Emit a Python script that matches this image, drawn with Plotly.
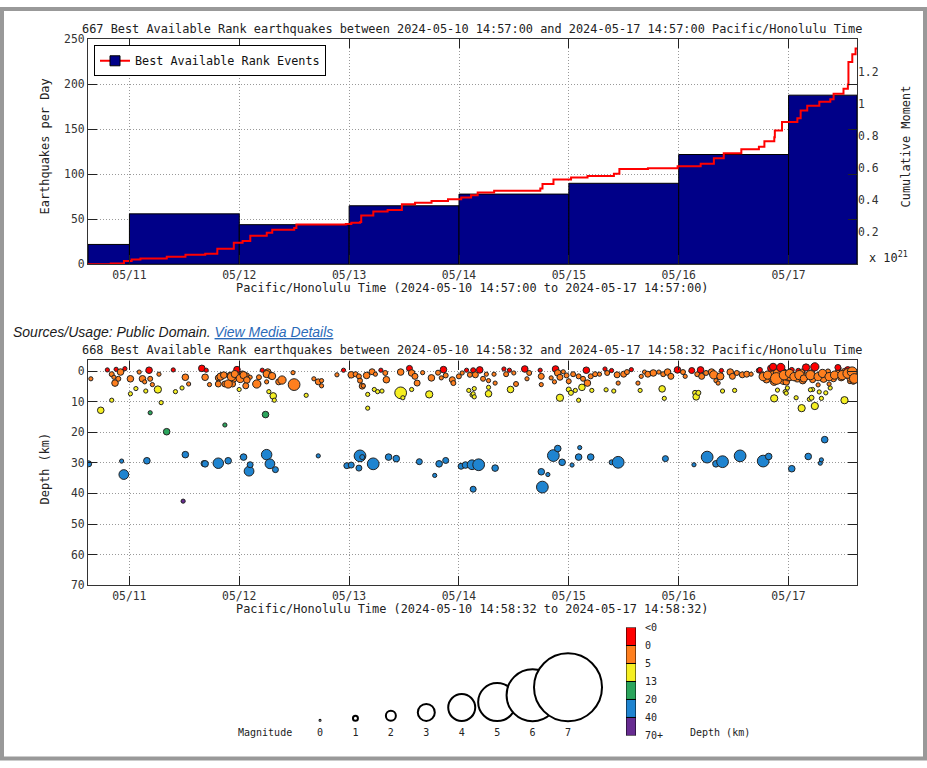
import numpy as np
import pandas as pd
import plotly.graph_objects as go

W, H = 927, 768
MONO = "DejaVu Sans Mono"

# --- top panel: earthquakes per day + cumulative moment (x 10^21) ---
bin_edges = ["2024-05-10 14:57:00", "2024-05-11 00:00:00", "2024-05-12 00:00:00", "2024-05-13 00:00:00",
             "2024-05-14 00:00:00", "2024-05-15 00:00:00", "2024-05-16 00:00:00", "2024-05-17 00:00:00",
             "2024-05-17 14:57:00"]
daily_counts = [22, 56, 44, 65, 78, 90, 122, 188]

# day-of-month (May 2024, fractional) of each step of the cumulative moment curve
moment_day = [10.623, 10.83, 10.95, 11.02, 11.10, 11.34, 11.51, 11.69, 11.80, 11.95,
              12.03, 12.10, 12.25, 12.30, 12.50, 12.52, 12.97, 13.02, 13.10, 13.11,
              13.22, 13.35, 13.48, 13.60, 13.75, 13.90, 14.02, 14.11, 14.17, 14.32,
              14.74, 14.76, 14.86, 15.02, 15.17, 15.41, 15.46, 15.72, 15.99, 16.20,
              16.32, 16.41, 16.57, 16.73, 16.78, 16.87, 16.875, 16.94, 17.08, 17.11,
              17.17, 17.28, 17.38, 17.41, 17.50, 17.54, 17.545, 17.58, 17.61, 17.623]
moment_value = [0.0, 0.005, 0.02, 0.03, 0.035, 0.047, 0.059, 0.065, 0.096, 0.133,
                0.145, 0.177, 0.196, 0.214, 0.226, 0.247, 0.251, 0.259, 0.263, 0.304,
                0.328, 0.338, 0.373, 0.383, 0.393, 0.404, 0.416, 0.43, 0.446, 0.457,
                0.471, 0.50, 0.528, 0.54, 0.55, 0.563, 0.593, 0.598, 0.61, 0.626,
                0.66, 0.691, 0.716, 0.732, 0.766, 0.791, 0.832, 0.885, 0.909, 0.958,
                0.987, 1.011, 1.028, 1.062, 1.093, 1.119, 1.26, 1.307, 1.344, 1.348]

# --- bottom panel: individual events (day-of-month, depth km, magnitude) ---
quake_day = [
    10.63, 10.65, 10.74, 10.80, 10.84, 10.84, 10.86, 10.87, 10.88, 10.90,
    10.92, 10.93, 10.95, 10.96, 11.01, 11.01, 11.06, 11.09, 11.12, 11.14,
    11.15, 11.16, 11.18, 11.19, 11.19, 11.21, 11.26, 11.27, 11.29, 11.34,
    11.40, 11.42, 11.48, 11.49, 11.51, 11.51, 11.54, 11.66, 11.68, 11.69,
    11.69, 11.70, 11.73, 11.81, 11.81, 11.84, 11.87, 11.87, 11.90, 11.92,
    11.94, 11.95, 11.98, 12.00, 12.00, 12.03, 12.04, 12.05, 12.07, 12.09,
    12.10, 12.10, 12.17, 12.18, 12.21, 12.24, 12.25, 12.25, 12.26, 12.27,
    12.28, 12.28, 12.31, 12.32, 12.33, 12.36,
    12.49, 12.50, 12.61, 12.68, 12.72, 12.72, 12.75, 12.75, 12.89, 12.95,
    12.98, 13.02, 13.02, 13.06, 13.09, 13.09, 13.10, 13.10, 13.12, 13.12,
    13.13, 13.16, 13.17, 13.17, 13.21, 13.22, 13.23, 13.24, 13.26, 13.29,
    13.30, 13.33, 13.34, 13.36, 13.43, 13.47, 13.47, 13.49, 13.55, 13.57,
    13.57, 13.60, 13.62, 13.64, 13.67, 13.73, 13.75, 13.78, 13.81, 13.82,
    13.84, 13.86, 13.88, 13.88, 13.94, 13.95, 14.00, 14.02, 14.03, 14.06,
    14.07, 14.09, 14.10, 14.12,
    14.12, 14.13, 14.13, 14.13, 14.14, 14.14, 14.15, 14.18, 14.19, 14.22,
    14.25, 14.27, 14.27, 14.27, 14.32, 14.33, 14.33, 14.41, 14.43, 14.46,
    14.47, 14.50, 14.52, 14.60, 14.62, 14.64, 14.74, 14.75, 14.75, 14.75,
    14.76, 14.81, 14.84, 14.86, 14.87, 14.88, 14.90, 14.90, 14.92, 14.92,
    14.94, 14.95, 14.98, 15.00, 15.00, 15.02, 15.03, 15.04, 15.06, 15.09,
    15.09, 15.09, 15.10, 15.12, 15.13, 15.16, 15.17, 15.20, 15.20, 15.21,
    15.24, 15.28, 15.33, 15.34, 15.35, 15.39, 15.39, 15.41, 15.44, 15.45,
    15.45, 15.50, 15.53, 15.57, 15.63, 15.65, 15.66, 15.69, 15.72, 15.77,
    15.82, 15.85, 15.86, 15.87, 15.88,
    15.90, 15.93, 15.99, 16.04, 16.06, 16.12, 16.14, 16.15, 16.16, 16.17,
    16.18, 16.20, 16.21, 16.25, 16.26, 16.30, 16.32, 16.34, 16.34, 16.36,
    16.38, 16.39, 16.40, 16.40, 16.47, 16.49, 16.51, 16.53, 16.56, 16.58,
    16.62, 16.66, 16.73, 16.76, 16.77, 16.78, 16.80, 16.82, 16.84, 16.85,
    16.87, 16.87, 16.87, 16.90, 16.90, 16.92, 16.93, 16.96, 16.96, 16.97,
    16.98, 16.99, 17.00, 17.01, 17.03, 17.03, 17.06, 17.07, 17.08, 17.09,
    17.12, 17.12, 17.13, 17.16, 17.18, 17.19, 17.21, 17.21, 17.22, 17.22,
    17.24, 17.24, 17.27, 17.28, 17.29, 17.30, 17.30, 17.30, 17.32, 17.33,
    17.34, 17.36, 17.38, 17.38, 17.41, 17.45, 17.46, 17.48, 17.51, 17.51,
    17.54, 17.55, 17.56, 17.57, 17.59, 17.60, 17.61, 17.61,
    16.86, 16.93, 17.16, 17.24, 17.45, 16.74, 16.77, 16.81, 16.89, 16.96,
    17.01, 17.05, 17.10, 17.14, 17.20, 17.27, 17.31, 17.37, 17.42, 17.49,
    17.54, 17.58, 17.60, 17.27, 17.37, 16.98, 17.20,
    11.83, 11.86, 11.90, 11.93, 11.96, 12.01, 12.04, 12.07, 12.06, 12.16,
    12.25, 12.30, 12.39, 11.81,
]
quake_depth = [
    30.3, 2.5, 12.8, -0.4, 1.0, 9.5, 2.0, 3.9, -0.6, 2.5,
    0.3, 29.4, 33.8, -0.8, 2.5, 7.4, 5.7, 0.3, 2.5, 3.5,
    6.5, 29.3, -0.3, 2.5, 13.6, 4.4, 6.0, 1.0, 10.3, 19.8,
    -0.4, 6.7, 5.5, 42.5, 2.0, 27.3, 4.2, -0.9, 30.2, 2.0,
    30.3, -0.3, 4.4, 2.2, 30.1, 1.2, 4.2, 17.6, 29.3, 1.4,
    4.2, 2.5, -0.5, 1.7, 6.0, 1.0, 28.1, 2.0, 1.4, 32.7,
    2.0, 30.6, 4.2, 2.0, -0.3, 14.2, 3.5, 27.3, 0.3, 6.7,
    1.4, 30.3, 8.1, 9.5, 32.2, 3.5,
    0.5, 4.4, 7.9, 2.5, 3.5, 27.7, 3.1, 4.8, 1.2, -0.3,
    30.9, 1.2, 30.7, 1.0, 1.7, 31.7, 3.1, 27.7, 4.9, 28.1,
    4.8, 1.4, 7.6, 12.1, 0.2, 30.3, 6.0, 1.0, 6.7, -0.3,
    6.5, 0.6, 2.8, 28.1, 28.6, 0.3, 7.1, 8.7, -0.9, 0.6,
    6.0, 1.7, 3.9, 29.6, 0.5, 7.6, 2.2, 34.1, 0.5, 30.3,
    2.2, -0.5, 1.4, 29.2, 2.8, 3.9, 1.7, 31.1, 0.6, 30.7,
    -0.3, 6.3, 1.2, 7.8,
    30.6, -0.3, 7.4, 38.6, 5.7, 8.4, 1.2, 30.6, -0.4, 2.5,
    1.0, 3.1, 5.3, 7.4, 1.0, 3.9, 31.7, -0.7, 1.0, -0.3,
    6.0, 0.6, 4.2, -0.7, 2.5, 0.6, -0.3, 1.7, 4.4, 32.9,
    37.9, 33.8, 2.2, 27.6, 3.5, -0.7, 0.6, 25.3, 2.0, 8.7,
    29.8, 0.2, 1.4, 3.3, 6.0, 7.1, 30.7, 1.0, 6.3, 1.7,
    9.5, 28.1, 25.0, 5.3, 2.5, -0.3, 3.9, 1.7, 28.1, 6.3,
    1.0, 1.0, -0.7, 6.1, 0.6, -0.2, 29.8, 6.5, 1.2, 3.9,
    29.8, 1.0, 0.3, -0.5, 3.9, 6.3, 1.7, 0.3, 1.0, 0.6,
    0.3, 5.8, 1.0, 8.9, 28.6,
    0.3, 1.7, -0.4, 0.3, 1.7, -0.2, 30.6, 7.1, 8.4, 1.0,
    7.1, -0.4, 1.7, 0.6, 28.1, 0.3, 1.2, 3.1, 30.3, 3.9,
    1.7, -0.2, 6.5, 29.6, 0.3, 1.7, 6.3, 0.6, 27.7, 1.2,
    1.0, 1.0, -0.2, 1.0, 29.4, 1.7, 2.8, 27.9, -0.9, 1.2,
    3.3, 8.9, 1.8, 0.6, 6.2, 2.2, -0.9, 0.3, 2.5, 6.7,
    3.5, 5.5, 1.5, 1.7, -0.4, 31.9, 1.4, 8.7, 2.2, -0.1,
    0.3, 12.1, 3.1, 1.7, 27.9, 9.2, 0.6, 8.7, 2.8, 6.0,
    -1.2, 11.4, 1.7, 6.8, 30.1, 0.6, 8.9, 29.0, 2.5, 22.4,
    7.1, 0.1, 1.4, 5.5, 2.5, 0.6, -0.9, 2.0, 0.1, 9.5,
    -0.4, 1.2, 3.3, 2.2, 3.5, 0.6, 2.2, 1.5,
    -1.4, -1.2, -1.2, -1.4, -1.2, -0.4, 1.8, 1.3, 2.4, 1.3,
    0.75, 1.8, 1.3, 2.4, 1.3, 1.8, 0.75, 1.8, 1.3, 1.3,
    0.75, 0.2, 2.4, 4.5, 4.2, 7.2, 6.1,
    1.8, 1.3, 4.2, 1.8, 0.95, 2.4, 1.3, 2.9, 4.8, 4.2,
    0.95, 1.6, 2.9, 4.2,
]
quake_mag = [
    0.75, 0.3, 0.9, 0.3, 0.5, 0.3, 0.3, 0.9, 0.3, 0.5,
    0.9, 0.3, 1.55, 0.3, 0.9, 0.3, 0.3, 0.3, 0.9, 0.3,
    0.3, 0.9, 0.9, 0.5, 0.3, 0.3, 1.05, 0.3, 0.3, 0.9,
    0.3, 0.3, 0.3, 0.3, 0.9, 0.9, 0.3, 0.9, 0.75, 0.9,
    0.9, 0.3, 0.3, 0.75, 1.7, 0.45, 0.75, 0.3, 0.9, 0.9,
    0.75, 0.9, 0.9, 1.25, 0.3, 0.9, 0.9, 0.75, 0.5, 1.55,
    0.3, 0.75, 0.75, 0.5, 0.3, 0.9, 0.3, 1.7, 0.9, 0.3,
    0.75, 1.55, 0.9, 0.3, 0.75, 0.75,
    0.3, 1.95, 0.3, 0.3, 0.75, 0.3, 0.3, 0.3, 0.3, 0.3,
    0.75, 0.9, 0.75, 0.5, 0.5, 0.75, 0.5, 1.95, 0.75, 0.5,
    0.3, 0.9, 0.3, 0.3, 0.75, 1.95, 0.3, 0.3, 0.3, 0.3,
    0.3, 0.5, 0.9, 0.9, 0.9, 0.9, 1.95, 0.3, 0.75, 0.9,
    0.3, 0.75, 0.75, 0.75, 0.3, 1.05, 0.9, 0.3, 0.5, 0.9,
    0.3, 0.9, 0.5, 0.75, 0.75, 0.5, 0.5, 0.75, 0.3, 0.9,
    0.3, 0.3, 0.5, 0.3,
    1.55, 0.5, 0.3, 0.75, 0.3, 0.3, 0.75, 1.95, 0.9, 0.5,
    0.3, 0.3, 0.3, 0.9, 0.3, 0.3, 0.9, 0.3, 0.5, 0.3,
    0.9, 0.3, 0.5, 0.9, 0.3, 0.5, 0.3, 0.75, 0.3, 0.9,
    1.95, 0.3, 0.3, 1.95, 0.3, 0.9, 0.9, 0.9, 0.75, 1.05,
    0.9, 0.3, 0.5, 0.5, 0.5, 0.5, 0.3, 0.5, 0.3, 0.5,
    0.3, 0.9, 0.3, 0.9, 0.5, 0.9, 0.9, 0.5, 0.9, 0.3,
    0.5, 0.3, 0.3, 0.3, 0.5, 0.3, 0.5, 0.3, 0.75, 0.3,
    1.95, 0.75, 0.5, 0.3, 0.3, 0.3, 0.3, 0.3, 0.75, 0.9,
    0.3, 0.9, 0.5, 0.3, 0.75,
    0.9, 0.75, 0.9, 0.5, 0.3, 0.75, 0.3, 0.5, 0.9, 0.5,
    0.5, 0.9, 0.75, 0.5, 1.95, 0.9, 1.25, 0.3, 0.9, 0.3,
    1.05, 0.3, 0.3, 1.95, 0.9, 0.75, 0.3, 0.5, 1.95, 0.75,
    0.75, 0.3, 0.5, 0.5, 1.95, 0.75, 0.9, 0.9, 0.9, 1.25,
    1.25, 1.05, 2.0, 1.25, 0.3, 1.05, 0.9, 0.75, 1.9, 0.3,
    0.9, 0.3, 1.7, 1.25, 0.5, 0.9, 0.9, 0.3, 1.25, 0.5,
    0.75, 1.05, 0.9, 1.05, 0.9, 0.3, 0.9, 0.5, 0.75, 0.3,
    0.9, 1.05, 0.9, 0.3, 0.3, 0.5, 0.3, 0.3, 1.05, 0.9,
    0.3, 0.5, 0.9, 0.3, 0.75, 0.9, 0.3, 1.05, 0.75, 1.05,
    0.9, 1.25, 0.5, 1.25, 0.5, 1.05, 1.55, 2.0,
    1.05, 1.25, 1.05, 1.25, 0.75, 0.5, 1.25, 1.25, 1.95, 1.55,
    1.25, 1.25, 1.45, 1.05, 1.45, 1.25, 1.25, 1.25, 1.25, 1.45,
    1.55, 1.55, 1.55, 0.3, 0.3, 0.3, 0.3,
    1.05, 0.9, 1.25, 1.25, 1.05, 1.25, 1.05, 0.9, 0.75, 1.25,
    1.05, 1.05, 1.25, 0.75,
]
assert len(quake_day) == len(quake_depth) == len(quake_mag)

# depth classes: <0, 0-5, 5-13, 13-20, 20-40, 40-70+
depth_edges = [0, 5, 13, 20, 40]
depth_colors = ["#ff0000", "#ff7f1e", "#f5ef22", "#2ba55c", "#1f84d0", "#672c91"]
depth_labels = ["<0", "0", "5", "13", "20", "40", "70+"]

legend_mags = [0, 1, 2, 3, 4, 5, 6, 7]
# symbol diameter (px) for each magnitude, used by legend and by the events
legend_diam = [3, 7, 12, 19, 29, 40, 54, 70]


def to_time(days):
    return pd.Timestamp("2024-05-01") + pd.to_timedelta(np.asarray(days) - 1, unit="D")


def px(x):
    return x / W


def py(y):
    return 1 - y / H


edges = pd.to_datetime(bin_edges, format="%Y-%m-%d %H:%M:%S")
bar_width = (np.diff(edges.values) / np.timedelta64(1, "ms")).astype(float)

quake_color = [depth_colors[int(np.searchsorted(depth_edges, d, side="right"))] for d in quake_depth]
quake_size = np.interp(quake_mag, legend_mags, legend_diam)

fig = go.Figure()

fig.add_trace(go.Bar(
    x=edges[:-1], y=daily_counts, width=bar_width, offset=0,
    marker=dict(color="#000088", line=dict(color="black", width=1)),
    showlegend=False, xaxis="x", yaxis="y"
))
fig.add_trace(go.Scatter(
    x=to_time(moment_day), y=moment_value, mode="lines", line_shape="hv",
    line=dict(color="#ff0000", width=2), showlegend=False, xaxis="x", yaxis="y2"
))
# legend entry (line + square like the original key)
fig.add_trace(go.Scatter(
    x=[None], y=[None], mode="lines+markers", name="Best Available Rank Events",
    line=dict(color="#ff0000", width=2),
    marker=dict(symbol="square", color="#000088", size=10, line=dict(color="black", width=1)),
    xaxis="x", yaxis="y"
))

fig.add_trace(go.Scatter(
    x=to_time(quake_day), y=quake_depth, mode="markers",
    marker=dict(size=quake_size, color=quake_color, line=dict(color="#222", width=1), opacity=1),
    showlegend=False, xaxis="x2", yaxis="y3"
))

# magnitude key
fig.add_trace(go.Scatter(
    x=legend_mags, y=np.array(legend_diam) / 2, mode="markers",
    marker=dict(size=np.array(legend_diam) - 2, color="white", opacity=1,
                line=dict(color="black", width=2)),
    showlegend=False, cliponaxis=False, xaxis="x3", yaxis="y4"
))

# depth colour key
fig.add_trace(go.Bar(
    x=[0] * 6, y=[1] * 6, base=list(range(6)), width=1,
    marker=dict(color=depth_colors[::-1], line=dict(color="black", width=1)),
    showlegend=False, xaxis="x4", yaxis="y5"
))

tickfont = dict(family=MONO, size=11.4, color="#333")
axis_style = dict(
    showline=True, linecolor="#333", linewidth=1.2, mirror="ticks",
    ticks="inside", ticklen=9, tickwidth=1, tickcolor="#222", tickfont=tickfont,
    showgrid=True, gridcolor="#999", griddash="1px,2px", gridwidth=1, zeroline=False,
)
x_dom = [px(88), px(857)]

fig.update_layout(
    width=W, height=H, autosize=False, margin=dict(l=0, r=0, t=0, b=0),
    paper_bgcolor="white", plot_bgcolor="white",
    font=dict(family=MONO, size=11.6, color="#222"),
    barmode="overlay",
    showlegend=True,
    legend=dict(x=px(94), y=py(39), xanchor="left", yanchor="top",
                bgcolor="white", bordercolor="black", borderwidth=1,
                font=dict(family=MONO, size=11.8, color="#111")),
    xaxis=dict(axis_style, domain=x_dom, anchor="y", type="date",
               range=["2024-05-10 14:57:00", "2024-05-17 14:57:00"],
               tick0="2024-05-11", dtick=86400000, tickformat="%m/%d", ticklabelstandoff=0),
    yaxis=dict(axis_style, domain=[py(262), py(33)], anchor="x", range=[0, 250],
               tickvals=[0, 50, 100, 150, 200, 250]),
    yaxis2=dict(overlaying="y", side="right", anchor="x", range=[0, 1.4],
                tickvals=[0.2, 0.4, 0.6, 0.8, 1.0, 1.2], ticktext=["0.2", "0.4", "0.6", "0.8", "1", "1.2"],
                showline=False, showgrid=False, zeroline=False, ticks="", tickfont=tickfont),
    xaxis2=dict(axis_style, domain=x_dom, anchor="y3", type="date",
                range=["2024-05-10 14:58:32", "2024-05-17 14:58:32"],
                tick0="2024-05-11", dtick=86400000, tickformat="%m/%d", ticklabelstandoff=0),
    yaxis3=dict(axis_style, domain=[py(589), py(360)], anchor="x2", range=[70, -3.5],
                tickvals=[0, 10, 20, 30, 40, 50, 60, 70]),
    xaxis3=dict(domain=[px(300), px(600)], anchor="y4", range=[-0.565, 7.903],
                showline=False, showgrid=False, zeroline=False, ticks="",
                tickvals=legend_mags, ticktext=[str(m) for m in legend_mags],
                tickfont=dict(family=MONO, size=10, color="#222"), ticklabelstandoff=3),
    yaxis4=dict(domain=[py(728), py(650)], anchor="x3", range=[0, 78], visible=False),
    xaxis4=dict(domain=[px(626), px(636)], anchor="y5", range=[-0.5, 0.5], visible=False),
    yaxis5=dict(domain=[py(742), py(632)], anchor="x4", side="right", range=[-0.001, 6.001],
                tickvals=list(range(7)), ticktext=depth_labels[::-1],
                showline=False, showgrid=False, zeroline=False, ticks="",
                tickfont=dict(family=MONO, size=10, color="#222"), ticklabelstandoff=8),
)

ann = dict(showarrow=False, xref="paper", yref="paper", xanchor="center", yanchor="middle",
           font=dict(family=MONO, size=11.9, color="#222"))
small = dict(family=MONO, size=10, color="#222")
annotations = [
    dict(ann, x=px(472), y=py(22), text="667 Best Available Rank earthquakes between 2024-05-10 14:57:00 and 2024-05-17 14:57:00 Pacific/Honolulu Time"),
    dict(ann, x=px(472), y=py(286.5), text="Pacific/Honolulu Time (2024-05-10 14:57:00 to 2024-05-17 14:57:00)"),
    dict(ann, x=px(45), y=py(142), text="Earthquakes per Day", textangle=-90),
    dict(ann, x=px(906), y=py(142), text="Cumulative Moment", textangle=-90),
    dict(ann, x=px(888), y=py(255), text="x 10<sup>21</sup>"),
    dict(ann, x=px(472), y=py(349), text="668 Best Available Rank earthquakes between 2024-05-10 14:58:32 and 2024-05-17 14:58:32 Pacific/Honolulu Time"),
    dict(ann, x=px(45), y=py(470), text="Depth (km)", textangle=-90),
    dict(ann, x=px(472), y=py(613.5), text="Pacific/Honolulu Time (2024-05-10 14:58:32 to 2024-05-17 14:58:32)"),
    dict(ann, x=px(265), y=py(739), text="Magnitude", font=small),
    dict(ann, x=px(688), y=py(739), xanchor="left", text="Depth (km)", font=small),
    dict(ann, x=px(11), y=py(331), xanchor="left",
         text="<i>Sources/Usage: Public Domain. <span style='color:#2a6ab8;text-decoration:underline'>View Media Details</span></i>",
         font=dict(family="Liberation Sans", size=14, color="#1b1b1b")),
]
fig.update_layout(annotations=annotations)

# grey frame around the figure
fig.add_shape(type="rect", xref="paper", yref="paper", x0=px(2), x1=px(925), y0=py(765.5), y1=py(2),
              line=dict(color="#999", width=4), fillcolor="rgba(0,0,0,0)", layer="above")

# no page margin, so the chart fills the 927x768 window exactly
page_css = ("document.documentElement.style.margin='0';document.body.style.margin='0';"
            "document.documentElement.style.overflow='hidden';document.body.style.overflow='hidden';")
fig.write_html("out.html", config={"displayModeBar": False}, post_script=page_css)
